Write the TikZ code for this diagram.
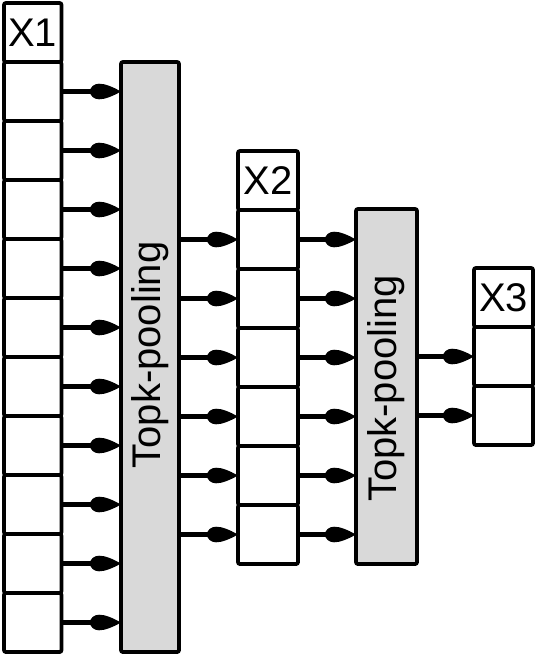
\documentclass[tikz,border=0pt]{standalone}
\usepackage{fontspec}
\setmainfont{Liberation Sans}
\usetikzlibrary{arrows.meta}
\definecolor{poolgray}{RGB}{217,217,217}
\pgfdeclarearrow{
  name = Blob,
  parameters = {},
  setup code = {
    \pgfarrowssettipend{0pt}
    \pgfarrowssetbackend{-31pt}
    \pgfarrowssetlineend{-15pt}
    \pgfarrowssetvisualbackend{-25pt}
    \pgfarrowshullpoint{0pt}{0pt}
    \pgfarrowshullpoint{-31pt}{7.8pt}
    \pgfarrowshullpoint{-31pt}{-7.8pt}
  },
  drawing code = {
    \pgfpathmoveto{\pgfpoint{0pt}{0pt}}
    \pgfpathcurveto{\pgfpoint{-9pt}{5pt}}{\pgfpoint{-16pt}{7.8pt}}{\pgfpoint{-22pt}{7.8pt}}
    \pgfpatharc{90}{270}{9pt and 7.8pt}
    \pgfpathcurveto{\pgfpoint{-16pt}{-7.8pt}}{\pgfpoint{-9pt}{-5pt}}{\pgfpoint{0pt}{0pt}}
    \pgfpathclose
    \pgfusepathqfill
  },
}
\begin{document}
\begin{tikzpicture}[x=1pt,y=-1pt,
  box/.style={draw,line width=3.8pt,inner sep=0pt,outer sep=0pt,anchor=north west,rounded corners=2pt,font=\fontsize{40}{40}\selectfont},
  cell/.style={box,minimum width=#1,minimum height=59pt},
  pool/.style={box,fill=poolgray},
  lbl/.style={rotate=90,inner sep=0pt,font=\fontsize{40}{40}\selectfont},
  conn/.style={line width=4.5pt,-{Blob}}
]
\useasboundingbox (0,0) rectangle (538,657);
% X1
\node[cell=57.5pt] (h1) at (4,3) {X1};
\foreach \i in {1,...,10}{
  \node[cell=57.5pt] (a\i) at (4,{62+59*(\i-1)}) {};
}
% pool 1
\node[pool,minimum width=58pt,minimum height=590pt] (p1) at (121,62) {};
\node[lbl] (t1) at ([yshift=2pt]p1.center) {Topk-pooling};
% X2
\node[cell=60pt] (h2) at (238,151) {X2};
\foreach \i in {1,...,6}{
  \node[cell=60pt] (b\i) at (238,{210+59*(\i-1)}) {};
}
% pool 2
\node[pool,minimum width=61pt,minimum height=355pt] (p2) at (356,209) {};
\node[lbl] (t2) at ([yshift=-2pt]p2.center) {Topk-pooling};
% X3
\node[cell=59pt] (h3) at (474,268) {X3};
\foreach \i in {1,2}{
  \node[cell=59pt] (c\i) at (474,{327+59*(\i-1)}) {};
}
% connectors
\foreach \i in {1,...,10}{
  \draw[conn] (a\i.east) -- (a\i.east -| p1.west);
}
\foreach \i in {1,...,6}{
  \draw[conn] (b\i.west -| p1.east) -- (b\i.west);
  \draw[conn] (b\i.east) -- (b\i.east -| p2.west);
}
\foreach \i in {1,2}{
  \draw[conn] (c\i.west -| p2.east) -- (c\i.west);
}
\end{tikzpicture}
\end{document}
